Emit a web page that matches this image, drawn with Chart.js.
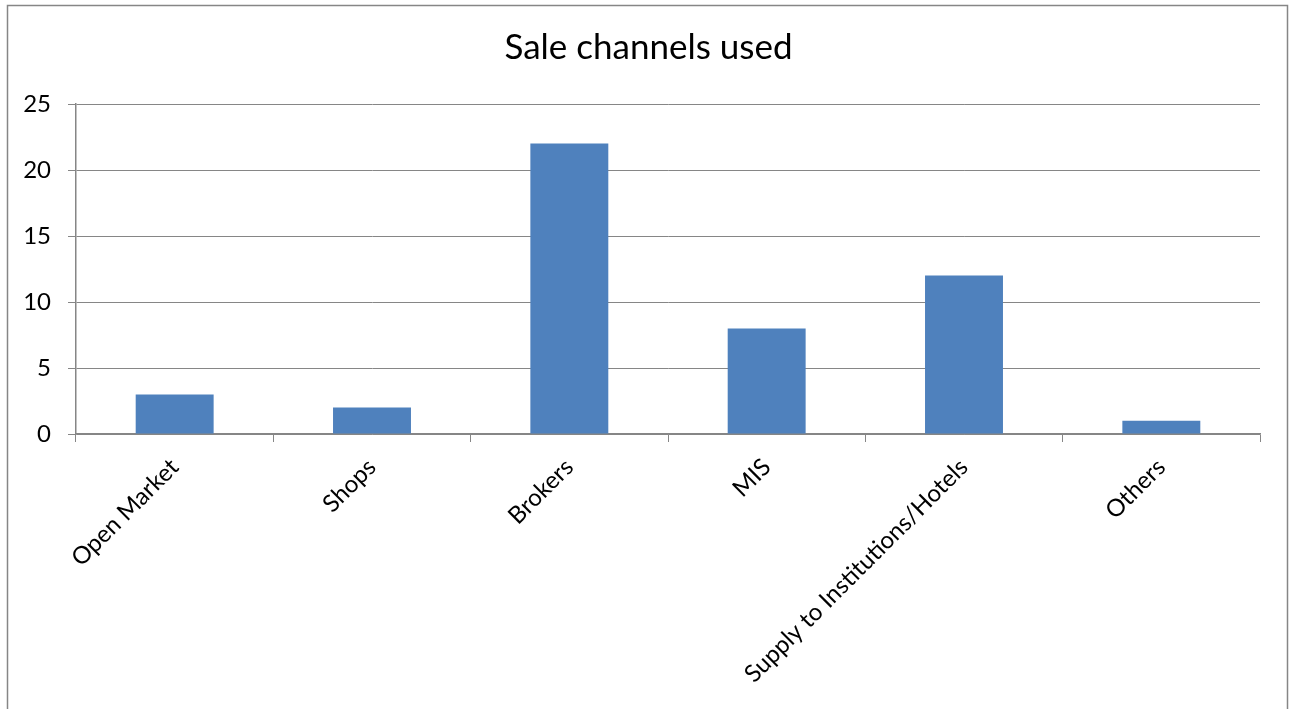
<!DOCTYPE html>
<html>
<head>
<meta charset="utf-8">
<script src="https://cdn.jsdelivr.net/npm/chart.js@4"></script>
<style>
    body { margin: 0; background: #fff; }
    #box { width: 1289px; height: 709px; }
</style>
</head>
<body>
<div id="box"><canvas id="myChart"></canvas></div>
<script>
// dados do gráfico
var canais = ['Open Market', 'Shops', 'Brokers', 'MIS', 'Supply to Institutions/Hotels', 'Others'];
var quantidades = [3, 2, 22, 8, 12, 1];
var ticksY = [0, 5, 10, 15, 20, 25];

var fonte = 'Lato, "Open Sans", sans-serif';

// moldura em volta do gráfico (como no Excel)
var moldura = {
    id: 'moldura',
    afterDraw: function (chart) {
        var ctx = chart.ctx;
        ctx.save();
        ctx.strokeStyle = '#868686';
        ctx.lineWidth = 1.5;
        ctx.strokeRect(7.5, 5.5, 1280, 720);
        ctx.restore();
    }
};

const ctx = document.getElementById('myChart');

var grafico = new Chart(ctx, {
    type: 'bar',
    data: {
        labels: canais,
        datasets: [{
            label: 'Sale channels used',
            data: quantidades,
            backgroundColor: '#4F81BD',
            borderWidth: 0,
            barPercentage: 0.395,
            categoryPercentage: 1
        }]
    },
    options: {
        responsive: true,
        maintainAspectRatio: false,
        animation: false,
        layout: {
            padding: { left: 8, right: 0, top: 0, bottom: 0 }
        },
        plugins: {
            legend: { display: false },
            tooltip: { enabled: false },
            title: {
                display: true,
                text: 'Sale channels used',
                color: '#000',
                font: { family: fonte, size: 35, weight: 'normal' },
                padding: { top: 27, bottom: 35 }
            }
        },
        scales: {
            y: {
                min: 0,
                max: 25,
                afterBuildTicks: function (scale) {
                    scale.ticks = ticksY.map(function (v) { return { value: v }; });
                },
                afterFit: function (scale) {
                    scale.width = 68;
                },
                grid: {
                    color: '#868686',
                    lineWidth: 1,
                    tickLength: 8
                },
                border: { color: '#868686', width: 1.5 },
                ticks: {
                    color: '#000',
                    padding: 17,
                    font: { family: fonte, size: 24 }
                }
            },
            // eixo vazio à direita, só para dar a margem
            margemDireita: {
                position: 'right',
                afterFit: function (scale) {
                    scale.width = 29;
                },
                grid: { display: false },
                border: { display: false },
                ticks: { display: false }
            },
            x: {
                afterFit: function (scale) {
                    scale.height = 275;
                },
                grid: {
                    drawOnChartArea: false,
                    color: '#868686',
                    tickLength: 8,
                    offset: true
                },
                border: { color: '#868686', width: 1.5 },
                ticks: {
                    color: '#000',
                    minRotation: 45,
                    maxRotation: 45,
                    autoSkip: false,
                    padding: 11,
                    font: { family: fonte, size: 24 }
                }
            }
        }
    },
    plugins: [moldura]
});
</script>
</body>
</html>
